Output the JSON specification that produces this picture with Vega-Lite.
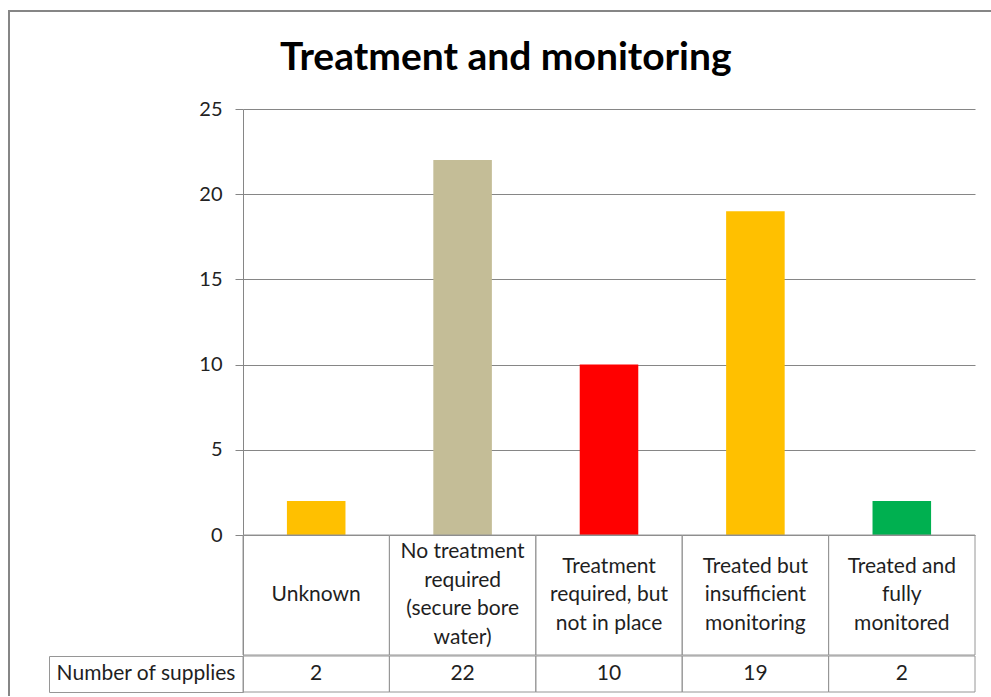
{
  "$schema": "https://vega.github.io/schema/vega-lite/v6.json",
  "background": "white",
  "padding": {"left": 8, "top": 10, "right": 0, "bottom": 0},
  "datasets": {
    "main": [
      {"category": "Unknown", "label": "Unknown", "supplies": 2},
      {"category": "No treatment required (secure bore water)", "label": "No treatment\nrequired\n(secure bore\nwater)", "supplies": 22},
      {"category": "Treatment required, but not in place", "label": "Treatment\nrequired, but\nnot in place", "supplies": 10},
      {"category": "Treated but insufficient monitoring", "label": "Treated but\ninsufficient\nmonitoring", "supplies": 19},
      {"category": "Treated and fully monitored", "label": "Treated and\nfully\nmonitored", "supplies": 2}
    ]
  },
  "spacing": 0,
  "resolve": {"scale": {"x": "independent", "y": "independent", "color": "independent"}},
  "vconcat": [
    {"width": 983, "height": 2, "data": {"values": []}, "mark": "point", "encoding": {}, "view": {"stroke": null, "fill": "#868686"}},
    {
      "spacing": 0,
      "resolve": {"scale": {"x": "independent", "y": "independent", "color": "independent"}},
      "hconcat": [
        {"width": 2, "height": 684, "data": {"values": []}, "mark": "point", "encoding": {}, "view": {"stroke": null, "fill": "#868686"}},
        {
          "spacing": 0,
          "resolve": {"scale": {"x": "independent", "y": "independent", "color": "independent"}},
          "vconcat": [
            {"width": 965, "height": 27, "data": {"values": []}, "mark": "point", "encoding": {}, "view": {"stroke": null}},
            {
              "title": {"text": "Treatment and monitoring", "font": "Lato", "fontSize": 39, "fontWeight": "bold", "color": "#000000", "anchor": "middle", "dx": 13, "offset": 21},
              "spacing": -2,
              "resolve": {"scale": {"x": "independent", "y": "independent", "color": "independent"}},
              "vconcat": [
                {
                  "hconcat": [
                    {"width": 233, "height": 546, "data": {"values": []}, "mark": "point", "encoding": {}, "view": {"stroke": null}},
                    {
                      "width": 732, "height": 546,
                      "data": {"name": "main"},
                      "view": {"stroke": null},
                      "encoding": {
                        "x": {"field": "category", "type": "nominal", "sort": null, "scale": {"paddingInner": 0, "paddingOuter": 0}, "axis": null}
                      },
                      "layer": [
                        {
                          "mark": {"type": "bar", "width": {"band": 0.4}},
                          "encoding": {
                            "y": {"field": "supplies", "type": "quantitative", "scale": {"domain": [-7.042, 25], "nice": false, "zero": false},
                              "axis": {"values": [0, 5, 10, 15, 20, 25], "title": null, "grid": true, "gridColor": "#868686", "gridOpacity": 1, "domainColor": "#868686", "tickColor": "#868686", "tickSize": 8, "labelPadding": 13, "labelFontSize": 20, "labelColor": "#222222", "labelFont": "Lato"}},
                            "color": {"field": "category", "type": "nominal", "sort": null,
                              "scale": {"domain": ["Unknown", "No treatment required (secure bore water)", "Treatment required, but not in place", "Treated but insufficient monitoring", "Treated and fully monitored"],
                                        "range": ["#FFC000", "#C4BD97", "#FF0000", "#FFC000", "#00B050"]}, "legend": null}
                          }
                        },
                        {
                          "mark": {"type": "rect", "fill": null, "stroke": "#969696", "strokeWidth": 1},
                          "encoding": {"y": {"datum": 0}, "y2": {"datum": -7.042}}
                        },
                        {
                          "transform": [{"calculate": "length(split(datum.label, '\\n'))", "as": "nlines"}],
                          "mark": {"type": "text", "lineBreak": "\n", "font": "Lato", "fontSize": 21, "lineHeight": 28.5, "color": "#1f1f1f", "baseline": "middle"},
                          "encoding": {
                            "y": {"datum": -3.521},
                            "yOffset": {"field": "nlines", "type": "quantitative", "scale": {"domain": [1, 4], "range": [0, -42.75]}},
                            "text": {"field": "label"}
                          }
                        }
                      ]
                    }
                  ],
                  "spacing": 0, "bounds": "flush",
                  "resolve": {"scale": {"x": "independent", "y": "independent"}}
                },
                {
                  "hconcat": [
                    {"width": 39, "height": 36, "data": {"values": []}, "mark": "point", "encoding": {}, "view": {"stroke": null}},
                    {
                      "width": 194, "height": 36,
                      "data": {"values": [{"header": "Number of supplies"}]},
                      "view": {"stroke": "#969696"},
                      "mark": {"type": "text", "font": "Lato", "fontSize": 21, "color": "#1f1f1f", "baseline": "middle"},
                      "encoding": {"text": {"field": "header"}}
                    },
                    {
                      "width": 732, "height": 36,
                      "data": {"name": "main"},
                      "view": {"stroke": null},
                      "encoding": {"x": {"field": "category", "type": "nominal", "sort": null, "scale": {"paddingInner": 0, "paddingOuter": 0}, "axis": null}},
                      "layer": [
                        {"mark": {"type": "rect", "fill": null, "stroke": "#969696", "strokeWidth": 1}},
                        {"mark": {"type": "text", "font": "Lato", "fontSize": 21, "color": "#1f1f1f", "baseline": "middle"}, "encoding": {"text": {"field": "supplies", "type": "quantitative"}}}
                      ]
                    }
                  ],
                  "spacing": 0, "bounds": "flush",
                  "resolve": {"scale": {"x": "independent", "y": "independent"}}
                }
              ]
            }
          ]
        }
      ]
    }
  ]
}
